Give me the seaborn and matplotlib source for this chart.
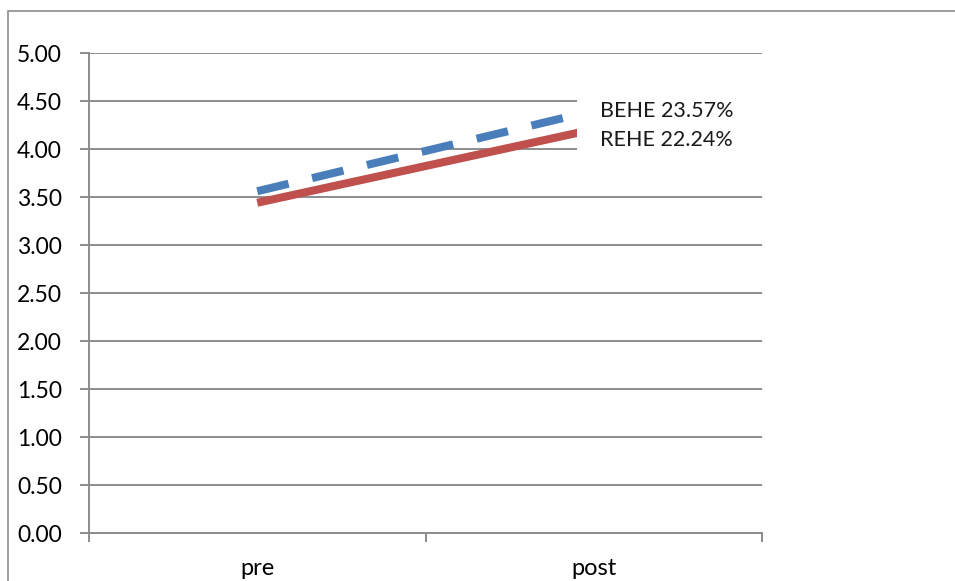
import matplotlib
matplotlib.use("Agg")
import matplotlib.pyplot as plt
from matplotlib.patches import Rectangle
from matplotlib.ticker import FixedLocator, MultipleLocator, FormatStrFormatter
import pandas as pd
import seaborn as sns

# Data
phases = ["pre", "post"]
series_names = ["BEHE", "REHE"]
pre_scores = [3.56, 3.44]
gain_pct = [23.57, 22.24]
series_colors = ["#4a7ebb", "#c0504d"]

post_scores = [p * (1 + g / 100) for p, g in zip(pre_scores, gain_pct)]

rows = []
for name, pre, post in zip(series_names, pre_scores, post_scores):
    rows.append({"phase": phases[0], "series": name, "score": pre})
    rows.append({"phase": phases[1], "series": name, "score": post})
df = pd.DataFrame(rows)

sns.set_theme(style="white")
plt.rcParams["font.family"] = ["Lato", "DejaVu Sans"]

W, H = 955, 581
fig = plt.figure(figsize=(W / 100, H / 100), dpi=100)

# outer chart-area frame
fig.patches.append(Rectangle((7.5 / W, -0.05), 1.0, 1 - 11 / H + 0.05,
                             transform=fig.transFigure, fill=False,
                             edgecolor="#8c8c8c", linewidth=1.2, zorder=0))

ax_l, ax_r, ax_t, ax_b = 89, 762, 53, 533
ax = fig.add_axes([ax_l / W, (H - ax_b) / H, (ax_r - ax_l) / W, (ax_b - ax_t) / H])

grid_c = "#8c8c8c"
for name, color in zip(series_names, series_colors):
    sub = df[df["series"] == name]
    sns.lineplot(data=sub, x="phase", y="score", ax=ax, color=color,
                 linewidth=5.8, zorder=4 if name == "BEHE" else 3)
    line = ax.lines[-1]
    if name == "BEHE":
        line.set_dashes([4, 3])
        line.set_dash_capstyle("butt")
    else:
        line.set_solid_capstyle("butt")

ax.set_xlim(-0.5, 1.5)
ax.set_ylim(0, 5)
ax.yaxis.set_major_locator(MultipleLocator(0.5))
ax.yaxis.set_major_formatter(FormatStrFormatter("%.2f"))
ax.set_xticks(range(len(phases)))
ax.set_xticklabels(phases)
ax.xaxis.set_minor_locator(FixedLocator([-0.5, 0.5, 1.5]))
ax.set_xlabel("")
ax.set_ylabel("")

ax.grid(axis="y", color=grid_c, linewidth=1.4)
ax.set_axisbelow(True)
for side in ["top", "right"]:
    ax.spines[side].set_visible(False)
for side in ["left", "bottom"]:
    ax.spines[side].set_color(grid_c)
    ax.spines[side].set_linewidth(1.4)

ax.tick_params(axis="y", which="major", left=True, length=6.5, width=1.4,
               color=grid_c, pad=13, labelsize=16.5, labelcolor="#000000")
ax.tick_params(axis="x", which="major", bottom=False, length=0, pad=18,
               labelsize=17, labelcolor="#000000")
ax.tick_params(axis="x", which="minor", bottom=True, length=6.5, width=1.4,
               color=grid_c)

# white backing box for the data labels at the post point
ax.add_patch(Rectangle((0.95, 3.97), 0.60, 0.55, facecolor="white",
                       edgecolor="none", zorder=5, clip_on=False))

label_offsets = [0, -8]
for name, g, post, dy in zip(series_names, gain_pct, post_scores, label_offsets):
    ax.annotate(f"{name} {g:.2f}%", xy=(1, post), xytext=(4.5, dy),
                textcoords="offset points", ha="left", va="center",
                fontsize=15.5, color="#1a1a1a", zorder=6)

fig.savefig("out.png", dpi=100, facecolor="white")
